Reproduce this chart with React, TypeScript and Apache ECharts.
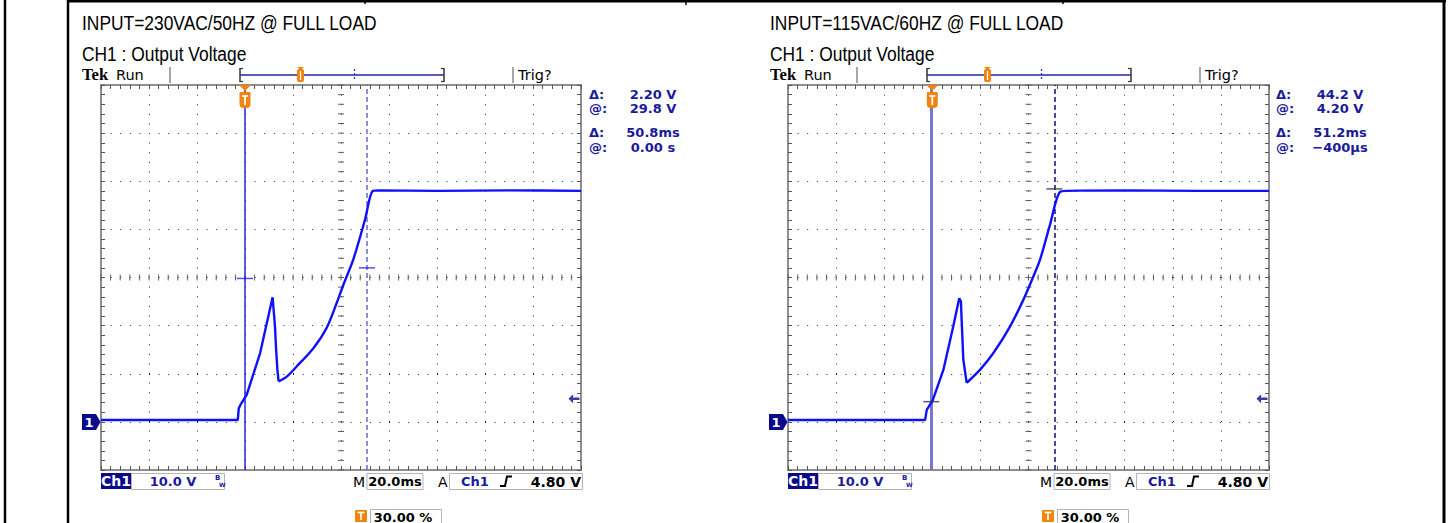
import React, { useEffect, useRef } from 'react';
import * as echarts from 'echarts';

// ---------- data ----------
const PANEL_TITLES = ['INPUT=230VAC/50HZ @ FULL LOAD', 'INPUT=115VAC/60HZ @ FULL LOAD'];
const CHANNEL_TITLE = 'CH1 : Output Voltage';

const TIME_MIN = -60; // ms
const TIME_MAX = 140;
const TIME_STEP = 20; // 20.0 ms/div
const VOLT_MIN = -10; // V
const VOLT_MAX = 70;
const VOLT_STEP = 10; // 10.0 V/div

// 230 VAC: flat, first rise, spike, collapse to minimum
const time230Pulse = [-60, -40, -20, -3.0, -2.6, -1.6, 0.7, 6.3, 11.5, 12.5, 12.9, 13.5, 14.0];
const volt230Pulse = [0.4, 0.4, 0.4, 0.4, 2.8, 3.8, 5.6, 14.3, 25.9, 19.8, 15.6, 10.8, 8.4];
// 230 VAC: recovery ramp and regulated output
const time230Ramp = [14.0, 17.4, 21.5, 28.5, 34.0, 38.2, 41.0, 45.1, 50.0, 53.3, 56, 80, 110, 140];
const volt230Ramp = [8.4, 9.4, 11.5, 15.3, 19.5, 24.7, 28.5, 33.7, 42.0, 48.0, 48.1, 48.0, 48.1, 48.0];

// 115 VAC
const time115Pulse = [-60, -40, -20, -3.0, -2.3, 0.2, 4.6, 8.7, 11.2, 11.9, 12.2, 12.9, 14.3];
const volt115Pulse = [0.4, 0.4, 0.4, 0.4, 2.5, 4.5, 10.8, 19.8, 25.7, 25.0, 21.2, 12.9, 8.1];
const time115Ramp = [14.3, 19.8, 25.4, 32.3, 37.8, 42.0, 44.8, 48.9, 53.1, 56, 80, 110, 140];
const volt115Ramp = [8.1, 10.8, 14.3, 19.8, 25.3, 30.2, 33.7, 40.9, 47.8, 48.0, 48.1, 48.0, 48.0];

const cursorTime230 = [0, 50.8];
const cursorVolt230 = [29.8, 32.0];
const cursorTime115 = [-0.4, 50.8];
const cursorVolt115 = [4.2, 48.4];

const readoutLabels = ['Δ:', '@:', 'Δ:', '@:'];
const readout230 = ['2.20 V', '29.8 V', '50.8ms', '0.00 s'];
const readout115 = ['44.2 V', '4.20 V', '51.2ms', '−400µs'];

const CH_SCALE = '10.0 V';
const TIME_SCALE = '20.0ms';
const TRIG_LEVEL_LABEL = '4.80 V';
const TRIG_POS_LABEL = '30.00 %';
const TRIGGER_LEVEL = 4.8;

// ---------- styling ----------
const ORANGE = '#f0840f';
const NAVY = '#0a0a8c';
const READ_BLUE = '#1a1a9a';
const TRACE = '#1010ff';

const panelPulse = [
  [time230Pulse, volt230Pulse],
  [time115Pulse, volt115Pulse],
];
const panelRamp = [
  [time230Ramp, volt230Ramp],
  [time115Ramp, volt115Ramp],
];
const panelCursorT = [cursorTime230, cursorTime115];
const panelCursorV = [cursorVolt230, cursorVolt115];
const panelReadouts = [readout230, readout115];

const grids = [
  { left: 101, top: 85, width: 480, height: 385 },
  { left: 788, top: 85, width: 481, height: 385 },
];

const cursorStyles = [
  {
    solid: { color: '#2626e0', width: 1.5, type: 'solid' },
    dashed: { color: '#6a6ad8', width: 1.5, type: [5, 3] },
    plus: '#2626e0',
  },
  {
    solid: { color: '#7676d0', width: 3, type: 'solid' },
    dashed: { color: '#101070', width: 1.5, type: [5, 3] },
    plus: '#303050',
  },
];

const zip = (a: number[], b: number[]) => a.map((t, i) => [t, b[i]]);

function buildOption() {
  const xAxis: any[] = [];
  const yAxis: any[] = [];
  const series: any[] = [];
  const tickStyle = { color: '#555555', width: 1 };
  const frameStyle = { color: '#8e8e8e', width: 2 };
  const dotStyle = { color: '#202020', width: 1, type: [1, 8.6] };

  grids.forEach((_, p) => {
    const baseX = {
      gridIndex: p,
      type: 'value',
      min: TIME_MIN,
      max: TIME_MAX,
      interval: TIME_STEP,
      axisLabel: { show: false },
      axisLine: { show: true, onZero: false, lineStyle: frameStyle },
      axisTick: { show: true, inside: true, length: 4, lineStyle: tickStyle },
      minorTick: { show: true, splitNumber: 5, length: 4, lineStyle: tickStyle },
      splitLine: { show: false },
    };
    xAxis.push({ ...baseX, position: 'bottom', splitLine: { show: true, lineStyle: dotStyle } });
    xAxis.push({ ...baseX, position: 'top' });
    const baseY = {
      gridIndex: p,
      type: 'value',
      min: VOLT_MIN,
      max: VOLT_MAX,
      interval: VOLT_STEP,
      axisLabel: { show: false },
      axisLine: { show: true, onZero: false, lineStyle: frameStyle },
      axisTick: { show: true, inside: true, length: 4, lineStyle: tickStyle },
      minorTick: { show: true, splitNumber: 5, length: 4, lineStyle: tickStyle },
      splitLine: { show: false },
    };
    yAxis.push({ ...baseY, position: 'left', splitLine: { show: true, lineStyle: dotStyle } });
    yAxis.push({ ...baseY, position: 'right' });

    const ct = panelCursorT[p];
    const cv = panelCursorV[p];
    const cs = cursorStyles[p];

    series.push({
      type: 'line',
      xAxisIndex: 2 * p,
      yAxisIndex: 2 * p,
      data: zip(panelPulse[p][0], panelPulse[p][1]),
      showSymbol: false,
      silent: true,
      z: 5,
      lineStyle: { color: TRACE, width: 2.4 },
      markLine: {
        silent: true,
        symbol: ['none', 'none'],
        label: { show: false },
        z: 4,
        data: [
          { xAxis: ct[0], lineStyle: cs.solid },
          { xAxis: ct[1], lineStyle: cs.dashed },
        ],
      },
    });
    series.push({
      type: 'line',
      xAxisIndex: 2 * p,
      yAxisIndex: 2 * p,
      data: zip(panelRamp[p][0], panelRamp[p][1]),
      showSymbol: false,
      silent: true,
      smooth: 0.3,
      z: 5,
      lineStyle: { color: TRACE, width: 2.4 },
    });
    series.push({
      type: 'scatter',
      xAxisIndex: 2 * p,
      yAxisIndex: 2 * p,
      data: zip(ct, cv),
      symbol: 'rect',
      symbolSize: [16, 1.5],
      silent: true,
      z: 6,
      itemStyle: { color: cs.plus },
    });
    series.push({
      type: 'scatter',
      xAxisIndex: 2 * p,
      yAxisIndex: 2 * p,
      data: [[TIME_MAX, TRIGGER_LEVEL]],
      symbol: 'path://M0,5 L5,0 L5,3.6 L12,3.6 L12,6.4 L5,6.4 L5,10 Z',
      symbolSize: [11, 9],
      symbolOffset: [-7, 0],
      silent: true,
      z: 6,
      itemStyle: { color: NAVY },
    });
  });

  return {
    animation: false,
    backgroundColor: '#ffffff',
    grid: grids.map((g) => ({ ...g, containLabel: false, show: false })),
    xAxis,
    yAxis,
    series,
  };
}

function buildGraphics(chart: any) {
  const els: any[] = [];
  const txt = (x: number, y: number, text: string, font: string, fill: string, align = 'left', extra: any = {}) =>
    els.push({
      type: 'text',
      x,
      y,
      silent: true,
      z: 20,
      ...extra,
      style: { text, font, fill, textAlign: align, textVerticalAlign: 'middle', align, verticalAlign: 'middle' },
    });
  const line = (x1: number, y1: number, x2: number, y2: number, stroke: string, w = 1, dash?: number[], z = 20) =>
    els.push({ type: 'line', silent: true, z, shape: { x1, y1, x2, y2 }, style: { stroke, lineWidth: w, lineDash: dash } });
  const rect = (x: number, y: number, w: number, h: number, style: any, r?: any) =>
    els.push({ type: 'rect', silent: true, z: 20, shape: { x, y, width: w, height: h, r }, style });
  const poly = (points: number[][], fill: string) =>
    els.push({ type: 'polygon', silent: true, z: 20, shape: { points }, style: { fill } });

  // outer page frame
  line(5, 0, 5, 523, '#000', 2.5);
  line(68, 0, 68, 523, '#000', 2.5);
  line(1444, 0, 1444, 523, '#000', 3);
  line(67, 1.2, 1446, 1.2, '#000', 2.5);
  line(365, 0, 365, 4, '#000', 1.5);
  line(686, 0, 686, 5, '#000', 1.5);
  line(1063, 0, 1063, 4, '#000', 1.5);

  const titleFont = '20px "Liberation Sans", Arial, sans-serif';
  const readFont = 'bold 13px "DejaVu Sans", sans-serif';

  grids.forEach((_, p) => {
    const dx = p === 0 ? 0 : 687;
    const hx = p === 0 ? 0 : 688;
    const finder = { xAxisIndex: 2 * p, yAxisIndex: 2 * p };
    const px = (t: number, v: number) => chart.convertToPixel(finder, [t, v]) as number[];

    // headings
    txt(82 + hx, 22.8, PANEL_TITLES[p], titleFont, '#000', 'left', { scaleX: 0.87 });
    txt(82 + hx, 54.5, CHANNEL_TITLE, titleFont, '#000', 'left', { scaleX: 0.87 });
    txt(82 + hx, 74.5, 'Tek', 'bold 17.5px "Liberation Serif", serif', '#000', 'left', { scaleX: 0.95 });
    txt(116 + hx, 74.5, 'Run', '14.5px "DejaVu Sans", sans-serif', '#000');

    // record-length bar
    line(170 + dx, 67, 170 + dx, 83, '#8a8a8a', 1.5);
    line(240 + dx, 75, 444 + dx, 75, '#5c5cb0', 2);
    line(240 + dx, 68, 240 + dx, 82, '#333', 1.5);
    line(240 + dx, 68.5, 243 + dx, 68.5, '#333', 1.2);
    line(240 + dx, 81.5, 243 + dx, 81.5, '#333', 1.2);
    line(444 + dx, 68, 444 + dx, 82, '#333', 1.5);
    line(441 + dx, 68.5, 444 + dx, 68.5, '#333', 1.2);
    line(441 + dx, 81.5, 444 + dx, 81.5, '#333', 1.2);
    line(354.5 + dx, 69, 354.5 + dx, 81, '#3434c0', 1.3, [2, 2]);
    poly([[297 + dx, 67], [304 + dx, 67], [300.5 + dx, 70]], ORANGE);
    rect(297 + dx, 69, 7, 13, { fill: ORANGE }, 2);
    line(300.5 + dx, 71, 300.5 + dx, 80, '#ffffff', 1.2);
    line(513 + dx, 67, 513 + dx, 83, '#8a8a8a', 1.5);
    txt(518 + dx, 75, 'Trig?', '14.5px "DejaVu Sans", sans-serif', '#000');

    // readouts
    const rowsY = [94, 108.5, 132, 147];
    panelReadouts[p].forEach((val, i) => {
      txt(589 + dx, rowsY[i], readoutLabels[i], readFont, READ_BLUE);
      txt(653 + dx, rowsY[i], val, readFont, READ_BLUE, 'center');
    });

    // center crosshair ticks
    const cT = (TIME_MIN + TIME_MAX) / 2;
    const cV = (VOLT_MIN + VOLT_MAX) / 2;
    for (let t = TIME_MIN; t <= TIME_MAX + 1e-6; t += TIME_STEP / 5) {
      const [x, y] = px(t, cV);
      line(x, y - 3, x, y + 3, '#606060', 1, undefined, 3);
    }
    for (let v = VOLT_MIN; v <= VOLT_MAX + 1e-6; v += VOLT_STEP / 5) {
      const [x, y] = px(cT, v);
      line(x - 3, y, x + 3, y, '#606060', 1, undefined, 3);
    }

    // trigger position marker (top)
    const [tx, top] = px(0, VOLT_MAX);
    poly([[tx - 6, top], [tx + 6, top], [tx, top + 6]], ORANGE);
    rect(tx - 5.5, top + 7, 11, 16, { fill: ORANGE }, [1, 1, 4, 4]);
    line(tx - 3, top + 11, tx + 3, top + 11, '#ffffff', 1.8);
    line(tx, top + 11, tx, top + 20, '#ffffff', 1.8);

    // ground marker
    const [gx, gy] = px(TIME_MIN, 0);
    poly([[gx - 19, gy - 8], [gx - 5, gy - 8], [gx - 0.5, gy], [gx - 5, gy + 8], [gx - 19, gy + 8]], NAVY);
    txt(gx - 12, gy + 0.5, '1', 'bold 13px "DejaVu Sans", sans-serif', '#ffffff', 'center');

    // status bar
    rect(101 + dx, 473, 30, 16, { fill: NAVY });
    txt(116 + dx, 481, 'Ch1', 'bold 14px "DejaVu Sans", sans-serif', '#ffffff', 'center');
    rect(131.5 + dx, 473.5, 93, 16, { fill: 'none', stroke: '#b4b4b4', lineWidth: 1 });
    txt(173 + dx, 481.5, CH_SCALE, readFont, READ_BLUE, 'center');
    txt(215 + dx, 477.5, 'B', 'bold 7px "DejaVu Sans", sans-serif', READ_BLUE);
    txt(219 + dx, 484, 'W', 'bold 6px "DejaVu Sans", sans-serif', READ_BLUE);

    txt(353 + dx, 481.5, 'M', '14px "DejaVu Sans", sans-serif', '#000');
    rect(367 + dx, 473.5, 56, 16, { fill: 'none', stroke: '#b4b4b4', lineWidth: 1 });
    txt(395 + dx, 481.5, TIME_SCALE, readFont, '#000', 'center');
    txt(438 + dx, 481.5, 'A', '14px "DejaVu Sans", sans-serif', '#000');
    rect(449.5 + dx, 473.5, 133, 16, { fill: 'none', stroke: '#b4b4b4', lineWidth: 1 });
    txt(475 + dx, 481.5, 'Ch1', readFont, READ_BLUE, 'center');
    els.push({
      type: 'polyline',
      silent: true,
      z: 20,
      shape: { points: [[500 + dx, 486], [505 + dx, 486], [507 + dx, 476.5], [512 + dx, 476.5]] },
      style: { stroke: '#000', lineWidth: 2, fill: 'none' },
    });
    txt(581 + dx, 481.5, TRIG_LEVEL_LABEL, 'bold 14px "DejaVu Sans", sans-serif', '#000', 'right');

    rect(355 + dx, 510, 12, 12, { fill: ORANGE }, 1);
    line(357.5 + dx, 512.5, 364.5 + dx, 512.5, '#fff', 1.6);
    line(361 + dx, 512.5, 361 + dx, 520, '#fff', 1.6);
    rect(370.5 + dx, 509.5, 71, 16, { fill: 'none', stroke: '#b4b4b4', lineWidth: 1 });
    txt(403 + dx, 517, TRIG_POS_LABEL, readFont, '#000', 'center');
  });
  return els;
}

export default function App() {
  const ref = useRef<HTMLDivElement>(null);
  useEffect(() => {
    const el = ref.current as HTMLDivElement;
    const chart = echarts.init(el, null, { renderer: 'svg', width: 1451, height: 523 });
    chart.setOption(buildOption() as any);
    chart.setOption({ graphic: buildGraphics(chart) } as any);
    return () => chart.dispose();
  }, []);
  return (
    <div
      ref={ref}
      style={{ position: 'fixed', left: 0, top: 0, width: 1451, height: 523, background: '#ffffff' }}
    />
  );
}
